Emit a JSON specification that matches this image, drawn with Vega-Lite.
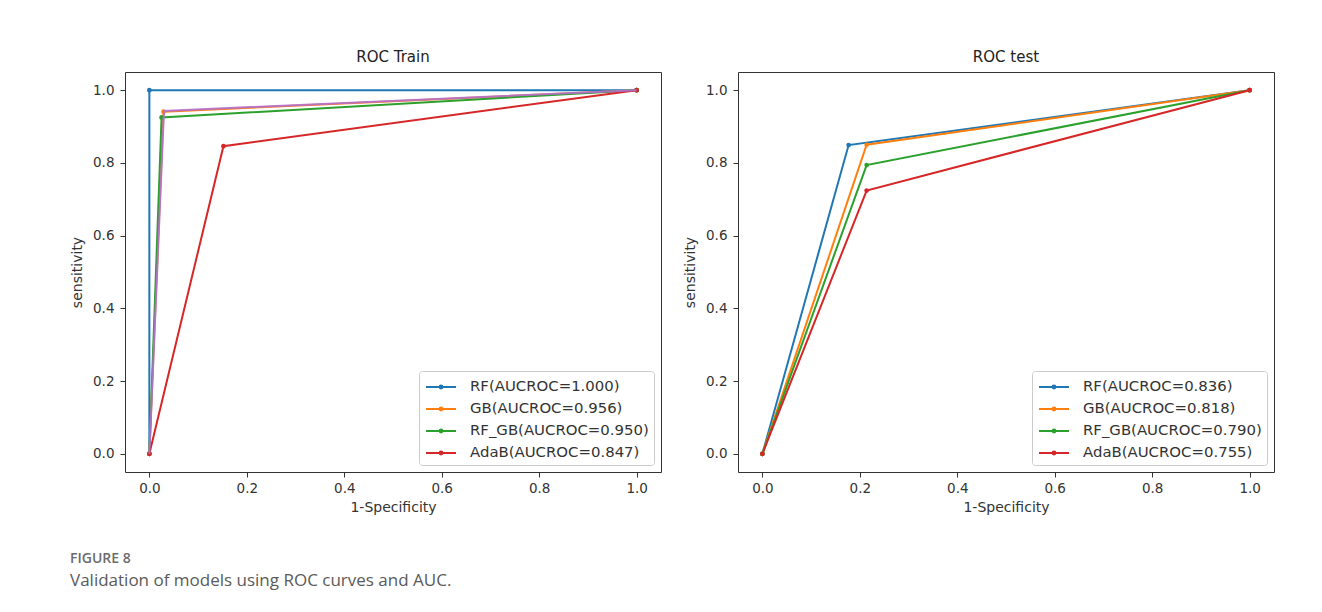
{
  "$schema": "https://vega.github.io/schema/vega-lite/v6.json",
  "background": "white",
  "padding": {"left": 70, "top": 49, "right": 40, "bottom": 10},
  "datasets": {
    "roc": [
      {"panel": "train", "model": "RF", "label": "RF(AUCROC=1.000)", "fpr": 0, "tpr": 0, "step": 0},
      {"panel": "train", "model": "RF", "label": "RF(AUCROC=1.000)", "fpr": 0, "tpr": 1, "step": 1},
      {"panel": "train", "model": "RF", "label": "RF(AUCROC=1.000)", "fpr": 1, "tpr": 1, "step": 2},
      {"panel": "train", "model": "GB", "label": "GB(AUCROC=0.956)", "fpr": 0, "tpr": 0, "step": 0},
      {"panel": "train", "model": "GB", "label": "GB(AUCROC=0.956)", "fpr": 0.029, "tpr": 0.941, "step": 1},
      {"panel": "train", "model": "GB", "label": "GB(AUCROC=0.956)", "fpr": 1, "tpr": 1, "step": 2},
      {"panel": "train", "model": "RF_GB", "label": "RF_GB(AUCROC=0.950)", "fpr": 0, "tpr": 0, "step": 0},
      {"panel": "train", "model": "RF_GB", "label": "RF_GB(AUCROC=0.950)", "fpr": 0.025, "tpr": 0.925, "step": 1},
      {"panel": "train", "model": "RF_GB", "label": "RF_GB(AUCROC=0.950)", "fpr": 1, "tpr": 1, "step": 2},
      {"panel": "train", "model": "AdaB", "label": "AdaB(AUCROC=0.847)", "fpr": 0, "tpr": 0, "step": 0},
      {"panel": "train", "model": "AdaB", "label": "AdaB(AUCROC=0.847)", "fpr": 0.152, "tpr": 0.846, "step": 1},
      {"panel": "train", "model": "AdaB", "label": "AdaB(AUCROC=0.847)", "fpr": 1, "tpr": 1, "step": 2},
      {"panel": "train", "model": "extra", "label": "", "fpr": 0, "tpr": 0, "step": 0},
      {"panel": "train", "model": "extra", "label": "", "fpr": 0.03, "tpr": 0.943, "step": 1},
      {"panel": "train", "model": "extra", "label": "", "fpr": 1, "tpr": 1, "step": 2},
      {"panel": "test", "model": "RF", "label": "RF(AUCROC=0.836)", "fpr": 0, "tpr": 0, "step": 0},
      {"panel": "test", "model": "RF", "label": "RF(AUCROC=0.836)", "fpr": 0.177, "tpr": 0.849, "step": 1},
      {"panel": "test", "model": "RF", "label": "RF(AUCROC=0.836)", "fpr": 1, "tpr": 1, "step": 2},
      {"panel": "test", "model": "GB", "label": "GB(AUCROC=0.818)", "fpr": 0, "tpr": 0, "step": 0},
      {"panel": "test", "model": "GB", "label": "GB(AUCROC=0.818)", "fpr": 0.214, "tpr": 0.85, "step": 1},
      {"panel": "test", "model": "GB", "label": "GB(AUCROC=0.818)", "fpr": 1, "tpr": 1, "step": 2},
      {"panel": "test", "model": "RF_GB", "label": "RF_GB(AUCROC=0.790)", "fpr": 0, "tpr": 0, "step": 0},
      {"panel": "test", "model": "RF_GB", "label": "RF_GB(AUCROC=0.790)", "fpr": 0.214, "tpr": 0.794, "step": 1},
      {"panel": "test", "model": "RF_GB", "label": "RF_GB(AUCROC=0.790)", "fpr": 1, "tpr": 1, "step": 2},
      {"panel": "test", "model": "AdaB", "label": "AdaB(AUCROC=0.755)", "fpr": 0, "tpr": 0, "step": 0},
      {"panel": "test", "model": "AdaB", "label": "AdaB(AUCROC=0.755)", "fpr": 0.214, "tpr": 0.724, "step": 1},
      {"panel": "test", "model": "AdaB", "label": "AdaB(AUCROC=0.755)", "fpr": 1, "tpr": 1, "step": 2}
    ]
  },
  "title": {
    "text": "FIGURE 8",
    "subtitle": "Validation of models using ROC curves and AUC.",
    "orient": "bottom",
    "anchor": "start",
    "frame": "bounds",
    "offset": 37,
    "font": "Open Sans",
    "fontSize": 14,
    "fontWeight": 600,
    "color": "#6b6b6b",
    "subtitleFont": "Open Sans",
    "subtitleFontSize": 17,
    "subtitleColor": "#5a5a5a",
    "subtitlePadding": 7
  },
  "spacing": 77,
  "bounds": "flush",
  "resolve": {"scale": {"color": "independent"}, "legend": {"color": "independent"}},
  "config": {
    "view": {"stroke": "#333333", "strokeWidth": 1, "fill": "white"},
    "axis": {
      "grid": false,
      "domain": false,
      "ticks": true,
      "tickColor": "#333333",
      "tickSize": 5,
      "labelFont": "DejaVu Sans",
      "labelFontSize": 13.5,
      "labelColor": "#333333",
      "titleFont": "DejaVu Sans",
      "titleFontSize": 14,
      "titleFontWeight": "normal",
      "titleColor": "#333333"
    },
    "axisX": {"labelPadding": 4, "titlePadding": 6},
    "axisY": {"labelPadding": 6, "titlePadding": 8},
    "legend": {
      "orient": "bottom-right",
      "offset": 7,
      "title": null,
      "strokeColor": "#cccccc",
      "fillColor": "white",
      "cornerRadius": 3,
      "padding": 5,
      "rowPadding": 4,
      "labelFont": "DejaVu Sans",
      "labelFontSize": 14.9,
      "labelColor": "#333333",
      "labelOffset": 18,
      "labelLimit": 400,
      "symbolType": "M-1.5,0L1.5,0M-0.14,0A0.14,0.14 0 1,0 0.14,0A0.14,0.14 0 1,0 -0.14,0",
      "symbolSize": 400,
      "symbolStrokeWidth": 2,
      "symbolOffset": 6
    },
    "title": {"font": "DejaVu Sans", "fontSize": 15, "fontWeight": "normal", "color": "#222222", "offset": 7}
  },
  "hconcat": [
    {
      "title": "ROC Train",
      "width": 536,
      "height": 400,
      "data": {"name": "roc"},
      "layer": [
        {
          "transform": [{"filter": "datum.panel == 'train' && datum.model != 'extra'"}],
          "mark": {"type": "line", "strokeWidth": 2, "point": {"filled": true, "size": 22}},
          "encoding": {
            "x": {"field": "fpr", "type": "quantitative", "title": "1-Specificity",
                  "scale": {"domain": [-0.05, 1.05], "nice": false, "zero": false},
                  "axis": {"values": [0, 0.2, 0.4, 0.6, 0.8, 1.0], "format": ".1f"}},
            "y": {"field": "tpr", "type": "quantitative", "title": "sensitivity",
                  "scale": {"domain": [-0.05, 1.05], "nice": false, "zero": false},
                  "axis": {"values": [0, 0.2, 0.4, 0.6, 0.8, 1.0], "format": ".1f"}},
            "order": {"field": "step"},
            "color": {"field": "label", "type": "nominal",
                      "scale": {"domain": ["RF(AUCROC=1.000)", "GB(AUCROC=0.956)", "RF_GB(AUCROC=0.950)", "AdaB(AUCROC=0.847)"],
                                "range": ["#1f77b4", "#ff7f0e", "#2ca02c", "#d62728"]}}
          }
        },
        {
          "transform": [{"filter": "datum.panel == 'train' && datum.model == 'extra'"}],
          "mark": {"type": "line", "strokeWidth": 2, "color": "#b26fd0", "opacity": 0.9},
          "encoding": {
            "x": {"field": "fpr", "type": "quantitative"},
            "y": {"field": "tpr", "type": "quantitative"},
            "order": {"field": "step"}
          }
        }
      ]
    },
    {
      "title": "ROC test",
      "width": 536,
      "height": 400,
      "data": {"name": "roc"},
      "transform": [{"filter": "datum.panel == 'test'"}],
      "mark": {"type": "line", "strokeWidth": 2, "point": {"filled": true, "size": 22}},
      "encoding": {
        "x": {"field": "fpr", "type": "quantitative", "title": "1-Specificity",
              "scale": {"domain": [-0.05, 1.05], "nice": false, "zero": false},
              "axis": {"values": [0, 0.2, 0.4, 0.6, 0.8, 1.0], "format": ".1f"}},
        "y": {"field": "tpr", "type": "quantitative", "title": "sensitivity",
              "scale": {"domain": [-0.05, 1.05], "nice": false, "zero": false},
              "axis": {"values": [0, 0.2, 0.4, 0.6, 0.8, 1.0], "format": ".1f"}},
        "order": {"field": "step"},
        "color": {"field": "label", "type": "nominal",
                  "scale": {"domain": ["RF(AUCROC=0.836)", "GB(AUCROC=0.818)", "RF_GB(AUCROC=0.790)", "AdaB(AUCROC=0.755)"],
                            "range": ["#1f77b4", "#ff7f0e", "#2ca02c", "#d62728"]}}
      }
    }
  ]
}
